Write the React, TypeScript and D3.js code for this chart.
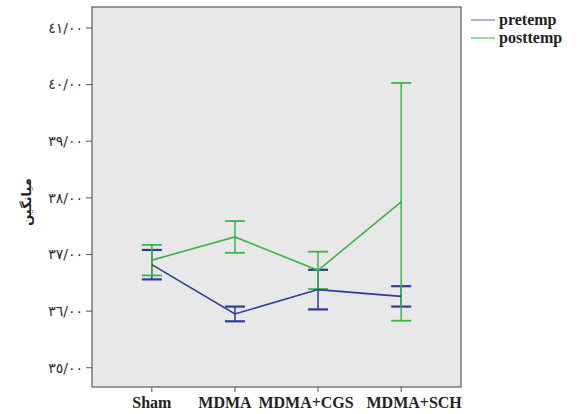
import { useEffect, useRef } from "react";
import * as d3 from "d3";

// groups on the x axis
const groups = ["Sham", "MDMA", "MDMA+CGS", "MDMA+SCH"];

// means and error half-widths
const preMean = [36.82, 35.95, 36.38, 36.26];
const preErr = [0.26, 0.13, 0.35, 0.18];
const postMean = [36.9, 37.31, 36.72, 37.93];
const postErr = [0.27, 0.28, 0.33, 2.1];

const yTicks = [35, 36, 37, 38, 39, 40, 41];
const yTickLabels = ["٣٥/٠٠", "٣٦/٠٠", "٣٧/٠٠", "٣٨/٠٠", "٣٩/٠٠", "٤٠/٠٠", "٤١/٠٠"];

const seriesNames = ["pretemp", "posttemp"];
const seriesColors = ["#2e3c96", "#3cb44a"];
const legendColors = ["#8e9bcf", "#7cc98c"];

export default function App() {
  const ref = useRef<SVGSVGElement>(null);

  useEffect(() => {
    const svg = d3.select(ref.current);
    svg.selectAll("*").remove();

    const left = 92;
    const right = 461;
    const top = 7;
    const bottom = 387;

    const x = d3.scalePoint().domain(groups).range([left, right]).padding(0.72);
    const y = d3.scaleLinear().domain([34.66, 41.37]).range([bottom, top]);

    svg
      .append("rect")
      .attr("x", left)
      .attr("y", top)
      .attr("width", right - left)
      .attr("height", bottom - top)
      .attr("fill", "#e8e8e8")
      .attr("stroke", "#5a5a5a")
      .attr("stroke-width", 1.2);

    // y axis
    const yAxis = svg.append("g");
    yTicks.forEach((t, i) => {
      yAxis
        .append("line")
        .attr("x1", left - 6)
        .attr("x2", left)
        .attr("y1", y(t))
        .attr("y2", y(t))
        .attr("stroke", "#555");
      yAxis
        .append("text")
        .attr("x", left - 9)
        .attr("y", y(t))
        .attr("dy", "0.35em")
        .attr("text-anchor", "end")
        .attr("font-family", "DejaVu Sans")
        .attr("font-size", 14)
        .attr("fill", "#2a2a2a")
        .text(yTickLabels[i]);
    });

    svg
      .append("text")
      .attr("transform", `translate(26,${(top + bottom) / 2 + 5}) rotate(-90)`)
      .attr("text-anchor", "middle")
      .attr("dy", "0.35em")
      .attr("font-family", "DejaVu Sans")
      .attr("font-weight", "bold")
      .attr("font-size", 13)
      .attr("fill", "#222")
      .text("میانگین");

    // x axis (labels sit slightly off their ticks in the original)
    const labelShift = [0, -10, -12, 13];
    const xAxis = svg.append("g");
    groups.forEach((g, i) => {
      xAxis
        .append("line")
        .attr("x1", x(g)!)
        .attr("x2", x(g)!)
        .attr("y1", bottom)
        .attr("y2", bottom + 5)
        .attr("stroke", "#555");
      xAxis
        .append("text")
        .attr("x", x(g)! + labelShift[i])
        .attr("y", bottom + 21)
        .attr("text-anchor", "middle")
        .attr("font-family", "Liberation Serif")
        .attr("font-weight", "bold")
        .attr("font-size", 16)
        .attr("fill", "#222")
        .text(g);
    });

    const series = [
      { mean: preMean, err: preErr },
      { mean: postMean, err: postErr },
    ];

    const line = d3
      .line<number>()
      .x((_, i) => x(groups[i])!)
      .y((d) => y(d));

    // error bars first, then lines on top
    series.forEach((s, k) => {
      const c = seriesColors[k];
      const g = svg.append("g");
      s.mean.forEach((m, i) => {
        const cx = x(groups[i])!;
        const hi = y(m + s.err[i]);
        const lo = y(m - s.err[i]);
        g.append("line")
          .attr("x1", cx)
          .attr("x2", cx)
          .attr("y1", hi)
          .attr("y2", lo)
          .attr("stroke", c)
          .attr("stroke-width", 1.5);
        [hi, lo].forEach((yy) => {
          g.append("line")
            .attr("x1", cx - 10)
            .attr("x2", cx + 10)
            .attr("y1", yy)
            .attr("y2", yy)
            .attr("stroke", c)
            .attr("stroke-width", k === 0 ? 2.2 : 1.8);
        });
      });
    });

    series.forEach((s, k) => {
      svg
        .append("path")
        .datum(s.mean)
        .attr("d", line)
        .attr("fill", "none")
        .attr("stroke", seriesColors[k])
        .attr("stroke-width", 1.6);
    });

    // legend
    const legend = svg.append("g");
    seriesNames.forEach((n, i) => {
      const ly = 20 + i * 18;
      legend
        .append("line")
        .attr("x1", 471)
        .attr("x2", 495)
        .attr("y1", ly)
        .attr("y2", ly)
        .attr("stroke", legendColors[i])
        .attr("stroke-width", 1.5);
      legend
        .append("text")
        .attr("x", 499)
        .attr("y", ly)
        .attr("dy", "0.3em")
        .attr("font-family", "Liberation Serif")
        .attr("font-weight", "bold")
        .attr("font-size", 16)
        .attr("fill", "#222")
        .text(n);
    });
  }, []);

  return (
    <svg
      ref={ref}
      width={578}
      height={414}
      style={{ position: "absolute", left: 0, top: 0, background: "#fff" }}
    />
  );
}
